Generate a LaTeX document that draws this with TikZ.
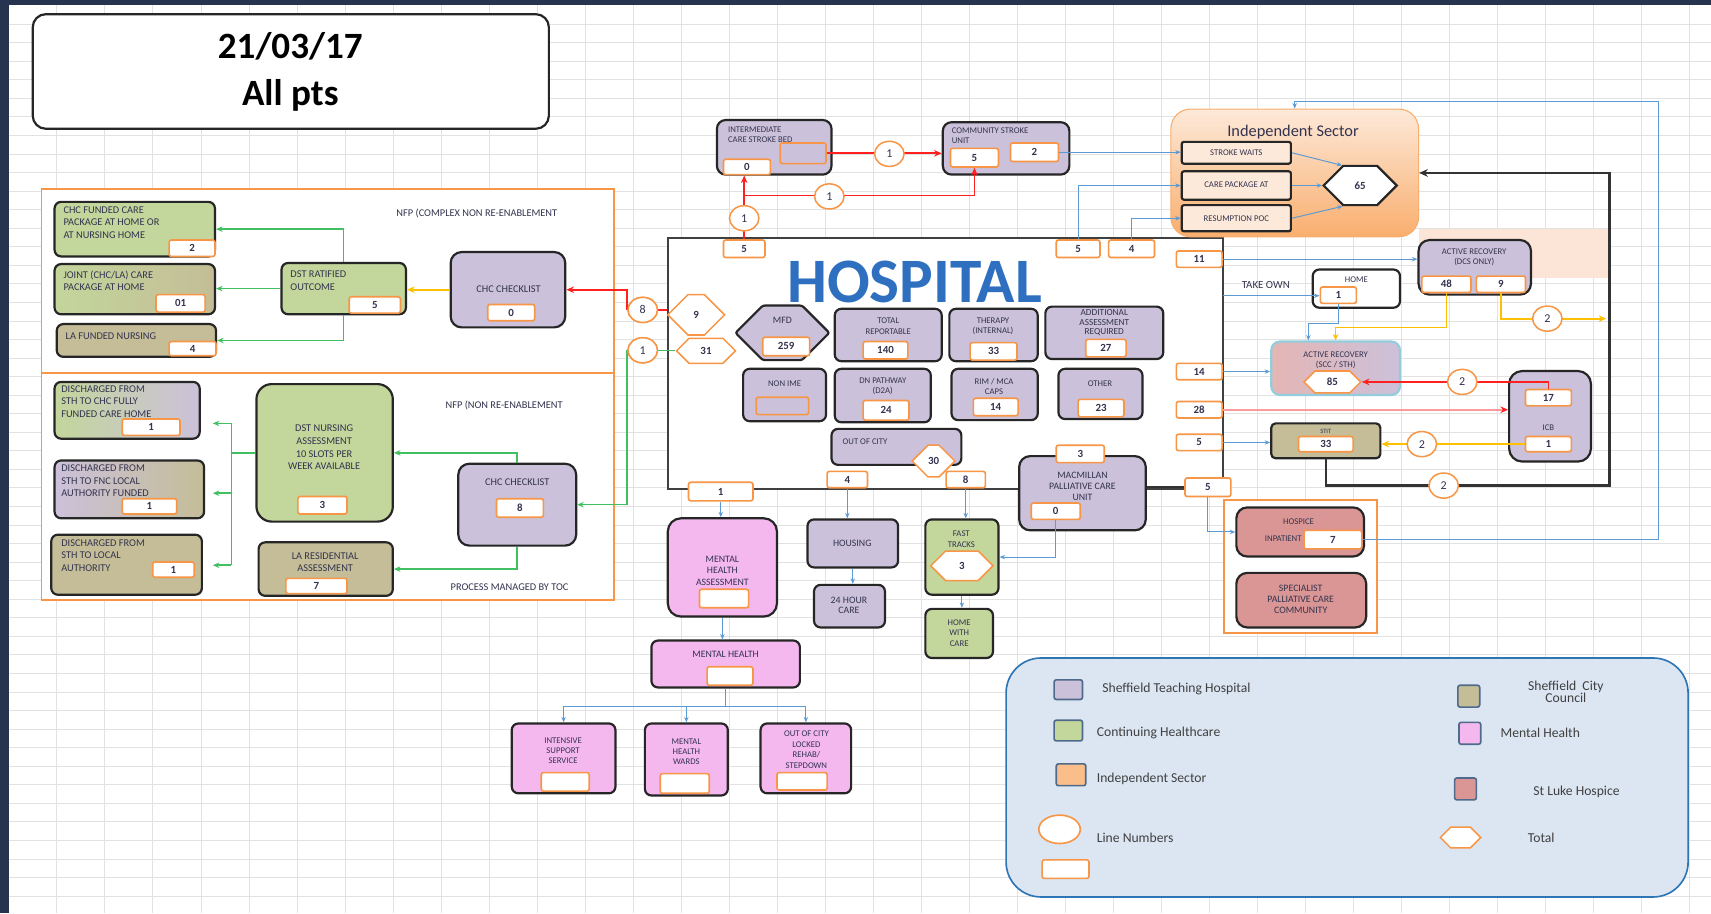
\documentclass[tikz,border=0pt]{standalone}
\usepackage{fontspec}
\setmainfont{Carlito}
\usetikzlibrary{shapes.geometric,shapes.symbols,arrows.meta,calc}
\definecolor{sth}{HTML}{CCC1DA}
\definecolor{chc}{HTML}{C3D69B}
\definecolor{scc}{HTML}{C4BD97}
\definecolor{mhc}{HTML}{F4B8EF}
\definecolor{slh}{HTML}{D99694}
\definecolor{orng}{HTML}{F79646}
\definecolor{ink}{HTML}{33334F}
\definecolor{bln}{HTML}{5B9BD5}
\definecolor{grn}{HTML}{40C060}
\definecolor{redl}{HTML}{FF2020}
\definecolor{pinkl}{HTML}{FF9A9A}
\definecolor{yel}{HTML}{FFC000}
\definecolor{navy}{HTML}{27344F}
\definecolor{gridc}{HTML}{E2E2E2}
\definecolor{hosp}{HTML}{2E6FBF}
\definecolor{legbg}{HTML}{DCE6F2}
\definecolor{legbd}{HTML}{2E75B6}
\definecolor{peach}{HTML}{FCE4D6}
\definecolor{isl}{HTML}{FDE9D9}
\definecolor{isd}{HTML}{F9AE6E}
\definecolor{arb}{HTML}{93CDDD}
\definecolor{sqb}{HTML}{4F6A8A}
\tikzset{
 bxs/.style={draw=black!85, line width=2pt, rounded corners=6pt, inner sep=0pt},
 tot/.style={draw=orng, fill=white, line width=1.5pt, rounded corners=2pt, inner sep=0pt, font=\fontsize{10}{10}\bfseries\selectfont},
 bt/.style={font=\fontsize{8}{9.5}\selectfont, align=center, inner sep=0pt},
 btl/.style={font=\fontsize{9.5}{11.5}\selectfont, align=left, inner sep=0pt},
 lnum/.style={ellipse, draw=orng, fill=white, line width=1.4pt, minimum width=27pt, minimum height=23pt, inner sep=0pt, font=\fontsize{11}{11}\selectfont},
 hexn/.style={signal, signal to=east and west, draw=orng, fill=white, line width=1.4pt, inner sep=0pt, font=\fontsize{10}{10}\bfseries\selectfont},
 lblue/.style={draw=bln, line width=0.9pt},
 ablue/.style={lblue, -{Stealth[length=5pt,width=4pt]}},
 lgrn/.style={draw=grn, line width=1.4pt},
 agrn/.style={lgrn, -{Stealth[length=6pt,width=5pt]}},
 ared/.style={draw=redl, line width=1.6pt, -{Stealth[length=7pt,width=6pt]}},
 lred/.style={draw=redl, line width=1.6pt},
 ayel/.style={draw=yel, line width=1.6pt, -{Stealth[length=7pt,width=6pt]}},
 ayelt/.style={draw=yel, line width=0.8pt, -{Stealth[length=6pt,width=5pt]}},
 apink/.style={draw=pinkl, line width=1.8pt, -{Stealth[length=7pt,width=6pt,color=redl]}},
 ablk/.style={draw=black!80, line width=2pt, -{Stealth[length=8pt,width=7pt]}},
 legsq/.style={draw=sqb, line width=1.5pt, rounded corners=2pt, inner sep=0pt},
 legt/.style={font=\fontsize{12.5}{12}\selectfont, inner sep=0pt, text=black!75},
 every node/.style={text=ink}
}
\newcommand\mkbox[7]{%
 \pgfmathsetmacro\mbcx{(#3+#5)/2}%
 \pgfmathsetmacro\mbcy{(#4+#6)/2}%
 \pgfmathsetmacro\mbw{#5-#3}%
 \pgfmathsetmacro\mbh{#6-#4}%
 \node[#1, minimum width=\mbw pt, minimum height=\mbh pt] (#2) at (\mbcx,\mbcy) {#7};}
\begin{document}
\begin{tikzpicture}[x=1pt,y=-1pt]
\useasboundingbox (0,0) rectangle (1568,837);
\fill[navy] (0,0) rectangle (1568,837);
\fill[white] (8,5) rectangle (1568,837);
\foreach \gx in {52,96,...,1568} \draw[gridc,line width=0.5pt] (\gx,5) -- (\gx,837);
\foreach \gy in {22,39,...,837} \draw[gridc,line width=0.5pt] (8,\gy) -- (1568,\gy);

% title
\mkbox{draw=black!85,line width=2pt,rounded corners=12pt,fill=white}{title}{30}{13}{503}{118}{}
\node[font=\fontsize{34}{43}\bfseries\selectfont,align=center,text=black] (titlet) at (266,66) {21/03/17\\All pts};

% left panels
\mkbox{draw=orng,line width=1.6pt,fill=white}{pnu}{38}{173}{563}{342}{}
\mkbox{draw=orng,line width=1.6pt,fill=white}{pnl}{38}{342}{563}{550}{}

% upper panel boxes
\mkbox{bxs,fill=chc}{cfa}{50}{185}{197}{235}{}
\node[btl,anchor=north west] (cfat) at (58,189) {CHC FUNDED CARE\\PACKAGE AT HOME OR\\AT NURSING HOME};
\mkbox{tot}{cfan}{155}{220}{197}{235}{2}
\mkbox{bxs,left color=chc,right color=scc}{jcp}{50}{242}{197}{288}{}
\node[btl,anchor=north west] (jcpt) at (58,248) {JOINT (CHC/LA) CARE\\PACKAGE AT HOME};
\mkbox{tot}{jcpn}{143}{270}{188}{286}{01}
\mkbox{bxs,fill=scc}{lfn}{52}{297}{198}{327}{}
\node[btl,anchor=west] (lfnt) at (60,308) {LA FUNDED NURSING};
\mkbox{tot}{lfnn}{155}{313}{198}{326}{4}
\mkbox{bxs,fill=chc}{dro}{258}{241}{372}{288}{}
\node[btl,anchor=north west] (drot) at (266,248) {DST RATIFIED\\OUTCOME};
\mkbox{tot}{dron}{320}{272}{367}{287}{5}
\mkbox{bxs,fill=sth,rounded corners=10pt}{cl1}{413}{231}{518}{300}{}
\node[btl] (cl1t) at (466,265) {CHC CHECKLIST};
\mkbox{tot}{cl1n}{447}{279}{490}{294}{0}
\node[btl] (nfpa) at (437,196) {NFP (COMPLEX NON RE-ENABLEMENT};

% lower panel boxes
\mkbox{bxs,left color=chc,right color=sth}{dl1}{50}{350}{183}{402}{}
\node[btl,anchor=north west] (dl1t) at (56,353) {DISCHARGED FROM\\STH TO CHC FULLY\\FUNDED CARE HOME};
\mkbox{tot}{dl1n}{112}{384}{165}{399}{1}
\mkbox{bxs,left color=sth,right color=scc}{dl2}{50}{422}{187}{475}{}
\node[btl,anchor=north west] (dl2t) at (56,426) {DISCHARGED FROM\\STH TO FNC LOCAL\\AUTHORITY FUNDED};
\mkbox{tot}{dl2n}{112}{457}{162}{471}{1}
\mkbox{bxs,fill=scc}{dl3}{47}{490}{185}{545}{}
\node[btl,anchor=north west] (dl3t) at (56,494) {DISCHARGED FROM\\STH TO LOCAL\\AUTHORITY};
\mkbox{tot}{dl3n}{140}{515}{178}{529}{1}
\mkbox{bxs,fill=chc,rounded corners=14pt}{dst}{235}{352}{360}{478}{}
\node[btl,align=center] (dstt) at (297,410) {DST NURSING\\ASSESSMENT\\10 SLOTS PER\\WEEK AVAILABLE};
\mkbox{tot}{dstn}{273}{455}{318}{471}{3}
\mkbox{bxs,fill=sth,rounded corners=10pt}{cl2}{420}{425}{528}{500}{}
\node[btl] (cl2t) at (474,442) {CHC CHECKLIST};
\mkbox{tot}{cl2n}{455}{457}{498}{474}{8}
\mkbox{bxs,fill=scc}{lar}{237}{497}{360}{546}{}
\node[btl,align=center] (lart) at (298,515) {LA RESIDENTIAL\\ASSESSMENT};
\mkbox{tot}{larn}{262}{530}{318}{544}{7}
\node[btl] (nfpb) at (462,372) {NFP (NON RE-ENABLEMENT};
\node[btl] (ptoc) at (467,538) {PROCESS MANAGED BY TOC};

% hospital
\mkbox{draw=black!75,line width=1.8pt,fill=white}{hospbox}{612}{218}{1121}{448}{}
\node[font=\fontsize{58}{58}\bfseries\selectfont, text=hosp] (hosptxt) at (838,258) {HOSPITAL};
\mkbox{bxs,fill=sth,signal,signal to=east and west,rounded corners=2pt}{mfd}{674}{280}{760}{330}{}
\node[bt,font=\fontsize{9}{10}\selectfont] (mfdt) at (717,294) {MFD};
\mkbox{tot}{mfdn}{699}{309}{742}{326}{259}
\mkbox{bxs,fill=sth}{trp}{765}{283}{863}{331}{}
\node[bt] (trpt) at (814,299) {TOTAL\\REPORTABLE};
\mkbox{tot}{trpn}{791}{313}{832}{329}{140}
\mkbox{bxs,fill=sth}{thr}{870}{283}{951}{331}{}
\node[bt] (thrt) at (910,299) {THERAPY\\(INTERNAL)};
\mkbox{tot}{thrn}{889}{314}{932}{330}{33}
\mkbox{bxs,fill=sth}{aar}{958}{281}{1066}{329}{}
\node[bt,font=\fontsize{8.5}{8.8}\selectfont] (aart) at (1012,296) {ADDITIONAL\\ASSESSMENT\\REQUIRED};
\mkbox{tot}{aarn}{995}{311}{1032}{327}{27}
\mkbox{bxs,fill=sth}{nim}{681}{338}{757}{386}{}
\node[bt] (nimt) at (719,352) {NON IME};
\mkbox{tot,fill=none}{nimn}{693}{364}{741}{380}{}
\mkbox{bxs,fill=sth}{dnp}{765}{338}{853}{387}{}
\node[bt] (dnpt) at (809,354) {DN PATHWAY\\(D2A)};
\mkbox{tot}{dnpn}{791}{367}{833}{385}{24}
\mkbox{bxs,fill=sth}{rim}{872}{338}{951}{385}{}
\node[bt] (rimt) at (911,354) {RIM / MCA\\CAPS};
\mkbox{tot}{rimn}{892}{365}{933}{381}{14}
\mkbox{bxs,fill=sth}{oth}{970}{338}{1047}{384}{}
\node[bt] (otht) at (1008,352) {OTHER};
\mkbox{tot}{othn}{988}{366}{1030}{382}{23}
\mkbox{bxs,fill=sth}{ooc}{762}{393}{881}{426}{}
\node[bt,anchor=west] (ooct) at (772,405) {OUT OF CITY};
\mkbox{hexn}{oocn}{836}{408}{875}{437}{30}

% edge totals
\mkbox{tot}{t5top}{663}{220}{701}{236}{5}
\mkbox{tot}{t5h}{968}{220}{1008}{236}{5}
\mkbox{tot}{t4h}{1016}{220}{1058}{236}{4}
\mkbox{tot}{t11}{1078}{230}{1120}{245}{11}
\mkbox{tot}{t14}{1078}{333}{1120}{348}{14}
\mkbox{tot}{t28}{1078}{368}{1120}{383}{28}
\mkbox{tot}{t5b}{1078}{398}{1120}{413}{5}
\mkbox{tot}{t1}{631}{442}{690}{459}{1}
\mkbox{tot}{t4}{758}{432}{795}{447}{4}
\mkbox{tot}{t8}{867}{432}{903}{447}{8}
\mkbox{hexn}{h31}{620}{310}{674}{333}{31}
\mkbox{hexn}{h9}{612}{270}{664}{307}{9}

% macmillan
\mkbox{bxs,fill=sth,rounded corners=10pt}{mac}{934}{418}{1050}{486}{}
\node[bt,font=\fontsize{9}{10}\selectfont] (mact) at (992,446) {MACMILLAN\\PALLIATIVE CARE\\UNIT};
\mkbox{tot}{macn}{945}{461}{990}{476}{0}
\mkbox{tot}{t3}{968}{408}{1012}{424}{3}
\mkbox{tot}{t5r}{1086}{438}{1128}{455}{5}

% below hospital
\mkbox{bxs,fill=mhc,rounded corners=12pt}{mha}{612}{475}{712}{565}{}
\node[bt,font=\fontsize{9}{10.5}\selectfont] (mhat) at (662,523) {MENTAL\\HEALTH\\ASSESSMENT};
\mkbox{tot}{mhan}{641}{540}{686}{557}{}
\mkbox{bxs,fill=sth}{hsg}{740}{476}{823}{520}{}
\node[bt,font=\fontsize{9}{10}\selectfont] (hsgt) at (781,498) {HOUSING};
\mkbox{bxs,fill=sth}{c24}{746}{536}{811}{575}{}
\node[bt,font=\fontsize{9}{9.5}\selectfont] (c24t) at (778,555) {24 HOUR\\CARE};
\mkbox{bxs,fill=chc}{fst}{848}{476}{915}{545}{}
\node[bt] (fstt) at (881,494) {FAST\\TRACKS};
\mkbox{hexn}{fstn}{853}{505}{910}{532}{3}
\mkbox{bxs,fill=chc}{hwc}{848}{558}{910}{603}{}
\node[bt] (hwct) at (879,580) {HOME\\WITH\\CARE};
\mkbox{bxs,fill=mhc}{mh}{597}{587}{733}{630}{}
\node[bt,font=\fontsize{9}{10}\selectfont] (mht) at (665,600) {MENTAL HEALTH};
\mkbox{tot}{mhn}{648}{611}{690}{628}{}
\mkbox{bxs,fill=mhc}{iss}{469}{663}{564}{727}{}
\node[bt] (isst) at (516,688) {INTENSIVE\\SUPPORT\\SERVICE};
\mkbox{tot}{issn}{496}{708}{540}{725}{}
\mkbox{bxs,fill=mhc}{mhw}{591}{663}{667}{729}{}
\node[bt] (mhwt) at (629,689) {MENTAL\\HEALTH\\WARDS};
\mkbox{tot}{mhwn}{605}{709}{650}{727}{}
\mkbox{bxs,fill=mhc}{olr}{697}{663}{780}{727}{}
\node[bt] (olrt) at (739,687) {OUT OF CITY\\LOCKED\\REHAB/\\STEPDOWN};
\mkbox{tot}{olrn}{712}{708}{758}{724}{}

% top centre stroke
\mkbox{bxs,fill=sth,rounded corners=8pt}{icb1}{657}{110}{762}{160}{}
\node[bt,align=left,anchor=north west] (icb1t) at (667,116) {INTERMEDIATE\\CARE STROKE BED};
\mkbox{tot}{icb0}{663}{146}{706}{160}{0}
\mkbox{tot,fill=none}{icbe}{715}{131}{757}{150}{}
\mkbox{bxs,fill=sth,rounded corners=8pt}{csu}{864}{112}{980}{160}{}
\node[bt,align=left,anchor=north west] (csut) at (872,117) {COMMUNITY STROKE\\UNIT};
\mkbox{tot}{csu5}{871}{136}{915}{153}{5}
\mkbox{tot}{csu2}{926}{131}{970}{148}{2}

% independent sector
\mkbox{draw=isd,line width=1pt,top color=isl,bottom color=isd,rounded corners=18pt}{isec}{1073}{100}{1300}{217}{}
\node[font=\fontsize{15}{15}\selectfont] (isect) at (1185,121) {Independent Sector};
\mkbox{bxs,fill=isl,rounded corners=2pt}{isw}{1083}{130}{1183}{150}{}
\node[bt] (iswt) at (1133,140) {STROKE WAITS};
\mkbox{bxs,fill=isl,rounded corners=2pt}{icp}{1083}{157}{1183}{183}{}
\node[bt] (icpt) at (1133,169) {CARE PACKAGE AT};
\mkbox{bxs,fill=isl,rounded corners=2pt}{irs}{1083}{188}{1183}{212}{}
\node[bt] (irst) at (1133,200) {RESUMPTION POC};
\mkbox{signal,signal to=east and west,draw=black!85,line width=2pt,fill=white,inner sep=0pt,font=\fontsize{10}{10}\bfseries\selectfont}{ish}{1213}{152}{1280}{188}{65}

% right side
\fill[peach] (1300,210) rectangle (1475,255);
\mkbox{bxs,fill=sth,rounded corners=10pt}{ard}{1300}{220}{1403}{270}{}
\node[bt] (ardt) at (1351,236) {ACTIVE RECOVERY\\(DCS ONLY)};
\mkbox{tot}{a48}{1303}{253}{1348}{268}{48}
\mkbox{tot}{a9}{1353}{253}{1398}{268}{9}
\mkbox{bxs,fill=white}{hme}{1203}{247}{1283}{282}{}
\node[bt] (hmet) at (1243,256) {HOME};
\mkbox{tot}{hm1}{1210}{263}{1243}{278}{1}
\node[font=\fontsize{10}{10}\selectfont] (tkot) at (1160,261) {TAKE OWN};
\mkbox{draw=arb,line width=2pt,rounded corners=8pt,left color=slh!70,right color=sth,inner sep=0pt}{arm}{1165}{313}{1283}{362}{}
\node[bt] (armt) at (1224,330) {ACTIVE RECOVERY\\(SCC / STH)};
\mkbox{hexn}{h85}{1195}{340}{1247}{360}{85}
\mkbox{bxs,fill=scc,rounded corners=4pt}{stit}{1165}{388}{1265}{420}{}
\node[bt,font=\fontsize{6}{6}\selectfont] (stitt) at (1215,395) {STIT};
\mkbox{tot}{s33}{1190}{400}{1240}{414}{33}
\mkbox{bxs,fill=sth,rounded corners=12pt}{icb}{1383}{340}{1458}{423}{}
\mkbox{tot}{i17}{1398}{357}{1440}{372}{17}
\node[bt] (icbt) at (1419,392) {ICB};
\mkbox{tot}{i1}{1398}{400}{1440}{414}{1}

% hospice
\mkbox{draw=orng,line width=1.6pt,fill=white}{hspg}{1122}{458}{1262}{580}{}
\mkbox{bxs,fill=slh,rounded corners=10pt}{hsp}{1133}{465}{1250}{510}{}
\node[bt] (hspt) at (1190,478) {HOSPICE};
\node[bt,anchor=east] (hspt2) at (1193,494) {INPATIENT};
\mkbox{tot}{hsp7}{1195}{486}{1248}{503}{7}
\mkbox{bxs,fill=slh,rounded corners=10pt}{spc}{1133}{525}{1252}{575}{}
\node[bt,font=\fontsize{9}{10}\selectfont] (spct) at (1192,549) {SPECIALIST\\PALLIATIVE CARE\\COMMUNITY};

% ---------- connectors ----------
% upper panel
\draw[agrn] (dro.north) |- (cfa.east);
\draw[agrn] (dro.west) -- (dro.west -| jcp.east);
\draw[agrn] (dro.south) |- (lfn.east);
\draw[ayel] (cl1.west) -- (cl1.west -| dro.east);
% lower panel
\draw[agrn] (cl2.north) |- (dst.east);
\draw[agrn] (cl2.south) |- (lar.east);
\coordinate (jx) at ($(dst.west)+(-22,0)$);
\coordinate (g1) at (195,388);
\coordinate (g2) at (195,452);
\coordinate (g3) at (195,518);
\draw[lgrn] (dst.west) -- (jx);
\draw[lgrn] (jx |- g1) -- (jx |- g3);
\draw[agrn] (jx |- g1) -- (g1);
\draw[agrn] (jx |- g2) -- (g2);
\draw[agrn] (jx |- g3) -- (g3);
% red & green from hospital
\node[lnum] (c8) at (589,284) {8};
\node[lnum] (c1g) at (589,321) {1};
\draw[lred] (c8.east) -- (c8.east -| h9.west);
\draw[ared] (c8.west) |- (cl1.east);
\draw[lgrn] (c1g.east) -- (c1g.east -| h31.west);
\draw[agrn] (c1g.west) |- (cl2.east);
\node[lnum] (c8b) at (589,284) {8};
\node[lnum] (c1gb) at (589,321) {1};
% stroke
\draw[ared] (icbe.east) -- (icbe.east -| csu.west);
\draw[ared] (t5top.north) -- (t5top.north |- icb0.south);
\coordinate (rb) at ($(t5top.north)+(0,-40)$);
\draw[ared] (rb) -| (csu5.south);
\node[lnum] (cs1) at (815,141) {1};
\node[lnum] (cs2) at (760,180) {1};
\node[lnum] (cs3) at (682,200) {1};
% independent sector feeds
\draw[ablue] (csu2.east) -- (csu2.east -| isw.west);
\draw[ablue] (t5h.north) |- (icp.west);
\draw[ablue] (t4h.north) |- (irs.west);
\draw[ablue] (isw.east) -- (ish.north west);
\draw[ablue] (icp.east) -- (ish.west);
\draw[ablue] (irs.east) -- (ish.south west);
% right side
\draw[ablue] (t11.east) -- (t11.east -| ard.west);
\coordinate (tko) at (1121,271);
\draw[ablue] (tko) -- (tko -| hm1.west);
\draw[ablue] (hm1.south) |- ($(arm.north west)+(35,-16)$) -- ($(arm.north west)+(35,0)$);
\draw[ayelt] (a48.south) |- ($(arm.north)+(0,-12)$) -- (arm.north);
\coordinate (y9e) at (1472,292);
\draw[ayel] (a9.south) |- (y9e);
\node[lnum] (cy9) at (1418,292) {2};
\draw[ablue] (t14.east) -- (t14.east -| arm.west);
\draw[apink] (t28.east) -- (t28.east -| icb.west);
\draw[ablue] (t5b.east) -- (t5b.east -| stit.west);
\draw[ared] (i17.north) |- (h85.east);
\node[lnum] (cr2) at (1340,350) {2};
\draw[ayel] (i1.west) -- (i1.west -| stit.east);
\node[lnum] (cyl2) at (1303,407) {2};
\coordinate (bk1) at (1475,445);
\draw[ablk] (stit.south) |- (bk1) |- (isec.east);
\node[lnum] (ck2) at (1323,445) {2};
\coordinate (bl1) at (1520,93);
\draw[ablue] (hsp7.east) -| (bl1) -| (isec.north);
% hospital bottom
\draw[draw=black!80,line width=2pt] (t5r.west) -- (t5r.west -| mac.east);
\draw[ablue] (t5r.south) |- (hsp.west);
\draw[ablue] (t1.south) -- (t1.south |- mha.north);
\draw[ablue] (t4.south) -- (t4.south |- hsg.north);
\draw[ablue] (hsg.south) -- (hsg.south |- c24.north);
\draw[ablue] (t8.south) -- (t8.south |- fst.north);
\draw[ablue] (macn.south) |- (fst.east);
\draw[ablue] (fst.south) -- (fst.south |- hwc.north);
\draw[ablue] (mha.south) -- (mha.south |- mh.north);
\coordinate (mhj) at ($(mh.south)+(0,16)$);
\draw[lblue] (mh.south) -- (mhj);
\draw[lblue] (mhj -| iss.north) -- (mhj -| olr.north);
\draw[ablue] (mhj -| iss.north) -- (iss.north);
\draw[ablue] (mhj -| mhw.north) -- (mhw.north);
\draw[ablue] (mhj -| olr.north) -- (olr.north);

% ---------- legend ----------
\mkbox{draw=legbd,line width=1.5pt,fill=legbg,rounded corners=32pt}{leg}{922}{603}{1547}{822}{}
\mkbox{legsq,fill=sth}{lq1}{966}{623}{992}{641}{}
\node[legt,anchor=west] (lq1t) at (1010,631) {Sheffield Teaching Hospital};
\mkbox{legsq,fill=chc}{lq2}{966}{660}{992}{679}{}
\node[legt,anchor=west] (lq2t) at (1005,672) {Continuing Healthcare};
\mkbox{legsq,fill=isd!80}{lq3}{968}{700}{995}{720}{}
\node[legt,anchor=west] (lq3t) at (1005,714) {Independent Sector};
\node[ellipse,draw=orng,fill=white,line width=1.5pt,minimum width=38pt,minimum height=26pt] (lq4) at (971,760) {};
\node[legt,anchor=west] (lq4t) at (1005,768) {Line Numbers};
\mkbox{tot}{lq5}{955}{788}{998}{805}{}
\mkbox{legsq,fill=scc}{lq6}{1336}{628}{1356}{648}{}
\node[legt,align=center,font=\fontsize{12.5}{9}\selectfont] (lq6t) at (1435,634) {Sheffield \ City\\Council};
\mkbox{legsq,fill=mhc}{lq7}{1337}{662}{1357}{682}{}
\node[legt,anchor=west] (lq7t) at (1375,672) {Mental Health};
\mkbox{legsq,fill=slh}{lq8}{1333}{713}{1353}{733}{}
\node[legt,anchor=west] (lq8t) at (1405,726) {St Luke Hospice};
\mkbox{hexn}{lq9}{1320}{758}{1357}{777}{}
\node[legt,anchor=west] (lq9t) at (1400,768) {Total};
\end{tikzpicture}
\end{document}
